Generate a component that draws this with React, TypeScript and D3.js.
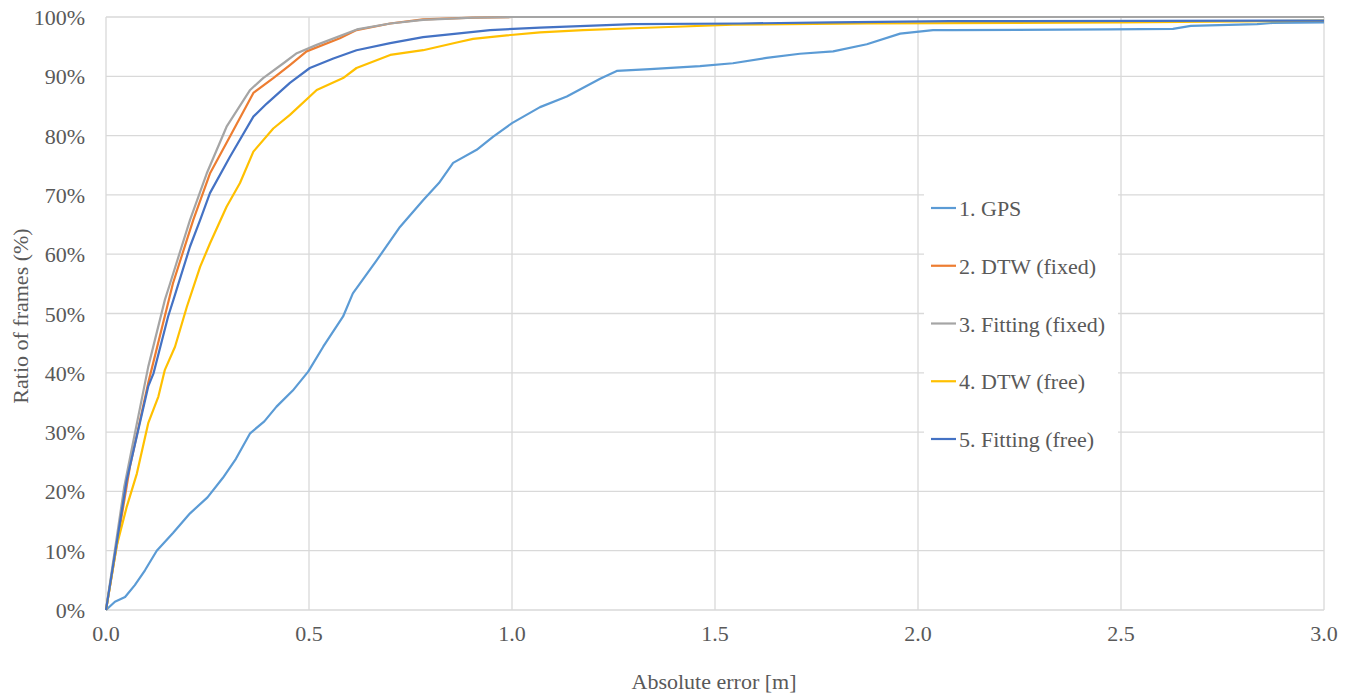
import React from "react";
import * as d3 from "d3";

// [absolute error (m), ratio of frames (%)]
const gps: [number, number][] = [
  [0, 0], [0.022, 1.4], [0.047, 2.2], [0.071, 4.2], [0.096, 6.7], [0.125, 10],
  [0.165, 13], [0.207, 16.3], [0.25, 19], [0.288, 22.3], [0.32, 25.5], [0.355, 29.8],
  [0.39, 31.8], [0.42, 34.3], [0.46, 37], [0.498, 40.2], [0.535, 44.4], [0.584, 49.5],
  [0.608, 53.4], [0.667, 59], [0.724, 64.6], [0.781, 69.1], [0.82, 72], [0.855, 75.4],
  [0.913, 77.6], [0.953, 79.8], [1.0, 82.1], [1.069, 84.8], [1.135, 86.6], [1.217, 89.6],
  [1.258, 90.9], [1.34, 91.2], [1.463, 91.7], [1.544, 92.2], [1.627, 93.1], [1.709, 93.8],
  [1.791, 94.2], [1.874, 95.4], [1.956, 97.2], [2.037, 97.8], [2.081, 97.8], [2.473, 97.9],
  [2.628, 98.0], [2.672, 98.5], [2.835, 98.8], [2.874, 99.0], [3.0, 99.1],
];

const dtwFixed: [number, number][] = [
  [0, 0], [0.059, 24.2], [0.104, 38.3], [0.165, 55.1], [0.215, 65.8], [0.256, 73.6],
  [0.305, 79.8], [0.363, 87.2], [0.412, 89.7], [0.453, 91.9], [0.494, 94.2], [0.576, 96.4],
  [0.617, 97.8], [0.7, 98.9], [0.781, 99.6], [0.904, 99.9], [1.0, 100], [3.0, 100],
];

const fittingFixed: [number, number][] = [
  [0, 0], [0.045, 20.8], [0.068, 28.7], [0.104, 41], [0.145, 52.3], [0.158, 55.1],
  [0.207, 65.8], [0.248, 73.6], [0.297, 81.5], [0.355, 87.7], [0.387, 89.7], [0.437, 92.2],
  [0.47, 93.9], [0.519, 95.3], [0.618, 97.9], [0.7, 98.9], [0.781, 99.5], [0.904, 99.9],
  [1.0, 100], [3.0, 100],
];

const dtwFree: [number, number][] = [
  [0, 0], [0.026, 10.7], [0.051, 17.4], [0.076, 23], [0.104, 31.5], [0.129, 36],
  [0.145, 40.5], [0.17, 44.4], [0.199, 51.1], [0.232, 57.9], [0.256, 61.8], [0.297, 68],
  [0.33, 72], [0.363, 77.3], [0.412, 81.2], [0.453, 83.5], [0.519, 87.7], [0.584, 89.7],
  [0.617, 91.4], [0.7, 93.6], [0.781, 94.4], [0.864, 95.7], [0.904, 96.3], [0.987, 96.9],
  [1.069, 97.4], [1.175, 97.8], [1.298, 98.1], [1.421, 98.4], [1.544, 98.7], [1.874, 98.9],
  [2.5, 99.1], [2.867, 99.3], [3.0, 99.4],
];

const fittingFree: [number, number][] = [
  [0, 0], [0.051, 21.9], [0.104, 37.7], [0.117, 39.9], [0.153, 49.5], [0.166, 52.3],
  [0.207, 61.3], [0.232, 65.8], [0.256, 70.3], [0.305, 76.4], [0.363, 83.2], [0.396, 85.4],
  [0.453, 88.9], [0.502, 91.4], [0.56, 93], [0.617, 94.4], [0.7, 95.6], [0.781, 96.6],
  [0.864, 97.2], [0.946, 97.8], [1.069, 98.2], [1.298, 98.8], [1.562, 98.9], [1.791, 99.1],
  [2.079, 99.3], [3.0, 99.4],
];

const seriesNames = ["1. GPS", "2. DTW (fixed)", "3. Fitting (fixed)", "4. DTW (free)", "5. Fitting (free)"];
const seriesColors = ["#5B9BD5", "#ED7D31", "#A5A5A5", "#FFC000", "#4472C4"];
const seriesData = [gps, dtwFixed, fittingFixed, dtwFree, fittingFree];

const xTicks = [0, 0.5, 1.0, 1.5, 2.0, 2.5, 3.0];
const yTicks = [0, 10, 20, 30, 40, 50, 60, 70, 80, 90, 100];

const width = 1349;
const height = 694;
const margin = { left: 106, right: 25, top: 17, bottom: 84 };
const textColor = "#595959";
const gridColor = "#D9D9D9";
const k = 22 / 30; // text drawn at 30px and scaled down

// text at (x, y), drawn big and scaled so the serif face is picked
const Label = ({ x, y, rotate = 0, anchor = "start", children }: any) => (
  <text
    transform={`translate(${x},${y}) rotate(${rotate}) scale(${k})`}
    textAnchor={anchor}
    fontSize={30}
    fontFamily="'Liberation Serif'"
    fill={textColor}
  >
    {children}
  </text>
);

const App = () => {
  const x = d3.scaleLinear().domain([0, 3]).range([margin.left, width - margin.right]);
  const y = d3.scaleLinear().domain([0, 100]).range([height - margin.bottom, margin.top]);
  const line = d3.line<[number, number]>().x(d => x(d[0])).y(d => y(d[1]));
  const fmt = d3.format(".1f");

  return (
    <svg width={width} height={height} style={{ position: "absolute", left: 0, top: 0 }}>
      {/* grid */}
      {yTicks.map(t => (
        <line key={"gy" + t} x1={x(0)} x2={x(3)} y1={y(t)} y2={y(t)}
          stroke={gridColor} strokeWidth={t === 0 ? 1.6 : 1.3} />
      ))}
      {xTicks.map(t => (
        <line key={"gx" + t} x1={x(t)} x2={x(t)} y1={y(0)} y2={y(100)}
          stroke={gridColor} strokeWidth={1.3} />
      ))}

      {/* tick labels */}
      {yTicks.map(t => (
        <Label key={"ty" + t} x={85} y={y(t) + 8} anchor="end">{`${t}%`}</Label>
      ))}
      {xTicks.map(t => (
        <Label key={"tx" + t} x={x(t)} y={641} anchor="middle">{fmt(t)}</Label>
      ))}

      {/* axis titles */}
      <Label x={714} y={689} anchor="middle">Absolute error [m]</Label>
      <Label x={28} y={316} rotate={-90} anchor="middle">Ratio of frames (%)</Label>

      {/* series */}
      {seriesData.map((d, i) => (
        <path key={seriesNames[i]} d={line(d) ?? ""} fill="none"
          stroke={seriesColors[i]} strokeWidth={2.2} strokeLinejoin="round" />
      ))}

      {/* legend */}
      <rect x={924} y={172} width={194} height={298} fill="white" />
      {seriesNames.map((name, i) => (
        <g key={name} transform={`translate(0,${208 + i * 57.75})`}>
          <line x1={931} x2={956} y1={0} y2={0} stroke={seriesColors[i]} strokeWidth={2.2} />
          <Label x={959} y={8}>{name}</Label>
        </g>
      ))}
    </svg>
  );
};

export default App;
